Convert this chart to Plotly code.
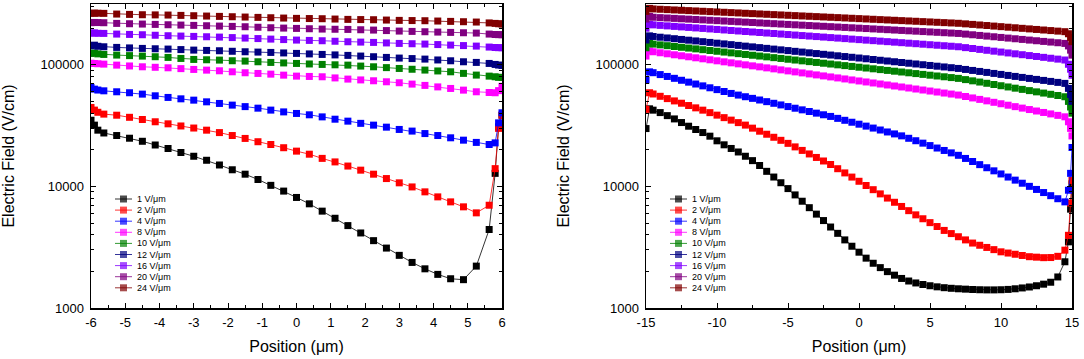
import plotly.graph_objects as go

W, H = 1084, 359

labels = ["1 V/μm", "2 V/μm", "4 V/μm", "8 V/μm", "10 V/μm", "12 V/μm", "16 V/μm", "20 V/μm", "24 V/μm"]
colors = ["#000000", "#FF0000", "#0000FF", "#FF00FF", "#008000", "#000080", "#8000FF", "#800080", "#800000"]

# ---------------- left panel (-6 .. 6 um) ----------------
left_x = [-6.0, -5.9, -5.8, -5.625, -5.25, -4.875, -4.5, -4.125, -3.75, -3.375, -3.0, -2.625, -2.25,
          -1.875, -1.5, -1.125, -0.75, -0.375, 0.0, 0.375, 0.75, 1.125, 1.5, 1.875, 2.25, 2.625, 3.0,
          3.375, 3.75, 4.125, 4.5, 4.875, 5.25, 5.625, 5.8, 5.9, 6.0]

left_1 = [35000, 31900, 29000, 27500, 26200, 24900, 23500, 21900, 20500, 19000, 17700, 16400, 15000,
          13700, 12600, 11400, 10200, 9150, 8110, 7190, 6260, 5470, 4760, 4140, 3580, 3110, 2710,
          2370, 2100, 1890, 1740, 1710, 2210, 4420, 12800, 30900, 38500]
left_2 = [44600, 42400, 40700, 39300, 38500, 37000, 35500, 34000, 32700, 31400, 30200, 29000, 27700,
          26200, 24800, 23300, 22100, 20800, 19500, 18400, 17000, 15900, 14700, 13600, 12600, 11600, 10700,
          9900, 9020, 8200, 7460, 6790, 6060, 7000, 14000, 30000, 38500]
left_4 = [65200, 63100, 62000, 61100, 60000, 58900, 57400, 55600, 53900, 52500, 51200, 49600, 48100,
          46600, 45300, 44000, 42400, 41000, 39800, 38800, 37300, 35700, 34400, 33000, 31900, 30700, 29400,
          28500, 27200, 26200, 25100, 24000, 23000, 22100, 22800, 33300, 40300]
left_8 = [103000, 102500, 102000, 101300, 99400, 97800, 96300, 95400, 94500, 93000, 91600, 90400, 89300,
          87600, 86000, 84900, 83800, 82200, 80700, 80200, 79700, 78000, 76300, 75100, 73900, 72500, 71200,
          69400, 67700, 65800, 63900, 61900, 60000, 59200, 58900, 61300, 66500]
left_10 = [124100, 125000, 123000, 121700, 120200, 119000, 117900, 116500, 115000, 112800, 110700, 110000, 109300,
           108000, 107300, 105900, 104600, 103600, 102600, 101600, 100700, 100000, 99400, 97600, 96300, 94800, 93300,
           91900, 90500, 89000, 87600, 85000, 82300, 80700, 79700, 78900, 78700]
left_12 = [143400, 145000, 142000, 140700, 139000, 137700, 136400, 135500, 134700, 133400, 132100, 131300, 130500,
           129200, 128000, 127200, 126400, 125200, 124100, 122900, 121700, 120600, 119500, 118000, 116500, 115000, 113600,
           112500, 111400, 109600, 107900, 105900, 104600, 102600, 100700, 99500, 98800]
left_16 = [182000, 183000, 181500, 181200, 178900, 177800, 176700, 175000, 173400, 172300, 171200, 170100, 169000,
           167400, 165900, 164300, 162700, 161200, 159700, 158700, 157700, 156200, 154700, 153700, 152800, 151300, 149900,
           149000, 148100, 146700, 145300, 143900, 142500, 139900, 138800, 138300, 138100]
left_20 = [222000, 223000, 222500, 221800, 219000, 217600, 216300, 214900, 213500, 212200, 210900, 209500, 208200,
           206900, 205600, 203600, 201700, 200400, 199200, 197900, 196700, 196000, 195400, 194200, 193000, 191200, 189400,
           188200, 187000, 185800, 184700, 183500, 182400, 178900, 177500, 177000, 176700]
left_24 = [265000, 266000, 265500, 264800, 261400, 259700, 258100, 257300, 256500, 254900, 253300, 251700, 250100,
           248500, 247000, 245400, 243800, 242300, 240900, 240100, 239300, 237800, 236300, 235500, 234800, 233300, 231900,
           231100, 230400, 229000, 227500, 226100, 224700, 221000, 219000, 217500, 216300]

# ---------------- right panel (-15 .. 15 um) ----------------
right_x = [-15, -14.75, -14.5, -14, -13.5, -13, -12.5, -12, -11.5, -11, -10.5, -10, -9.5, -9, -8.5, -8,
           -7.5, -7, -6.5, -6, -5.5, -5, -4.5, -4, -3.5, -3, -2.5, -2, -1.5, -1, -0.5, 0, 0.5, 1, 1.5,
           2, 2.5, 3, 3.5, 4, 4.5, 5, 5.5, 6, 6.5, 7, 7.5, 8, 8.5, 9, 9.5, 10, 10.5, 11, 11.5, 12, 12.5,
           13, 13.5, 14, 14.5, 14.75, 14.9, 15]

right_1 = [29900, 43450, 42360, 40460, 38190, 35890, 33500, 31260, 29380, 27730, 25880, 23710, 21980, 20510,
           19190, 17700, 16290, 14860, 13300, 11940, 10720, 9594, 8511, 7551, 6683, 5916, 5236, 4634, 4111,
           3631, 3221, 2877, 2570, 2333, 2148, 1991, 1862, 1750, 1667, 1607, 1560, 1524, 1493, 1469, 1452,
           1439, 1429, 1419, 1413, 1409, 1409, 1413, 1422, 1439, 1462, 1489, 1524, 1570, 1629, 1800, 2400,
           3500, 6500, 10500]
right_2 = [43000, 58900, 57540, 55080, 52720, 50470, 48310, 46240, 44260, 42360, 40420, 38550, 36770, 35080,
           33460, 31920, 30130, 28440, 26850, 25350, 23930, 22590, 21130, 19770, 18490, 17300, 16180, 15140,
           13980, 12910, 11930, 11020, 10170, 9397, 8679, 8017, 7405, 6839, 6317, 5834, 5420, 5035, 4677,
           4345, 4093, 3855, 3631, 3420, 3281, 3148, 3020, 2897, 2831, 2767, 2704, 2642, 2618, 2594, 2600,
           2660, 2990, 3960, 7300, 11200]
right_4 = [75000, 87500, 86100, 83100, 80200, 77400, 74600, 72000, 69500, 67100, 64700, 62500, 60300, 58150,
           56360, 54630, 52970, 51350, 49770, 48250, 46770, 45340, 43950, 42610, 41300, 40040, 38820, 37630,
           36270, 34960, 33700, 32480, 31310, 30180, 29090, 28030, 27020, 26040, 24870, 23750, 22680, 21660,
           20680, 19750, 18870, 18020, 16980, 16020, 15100, 14240, 13430, 12660, 11940, 11260, 10620, 10010,
           9440, 8900, 8390, 7920, 7460, 9300, 12800, 20900]
right_8 = [118000, 130000, 128000, 125580, 123210, 120890, 118610, 116370, 114170, 112010, 109900, 107830,
           105790, 103790, 101830, 99910, 98020, 96170, 94360, 92580, 90830, 89110, 87430, 85780, 84160, 82570,
           81010, 79480, 77980, 76510, 75060, 73650, 72260, 70890, 69550, 68240, 66950, 65690, 64450, 63230,
           62040, 60870, 59720, 58590, 57480, 56400, 54870, 53380, 51940, 50530, 49160, 47830, 46530, 45270,
           44040, 42850, 41690, 40560, 39460, 38390, 37350, 34000, 30000, 26000]
right_10 = [138000, 150000, 148000, 145780, 143600, 141450, 139330, 137240, 135180, 133160, 131160, 129200,
            127260, 125350, 123480, 121630, 119800, 118010, 116240, 114500, 112780, 111090, 109430, 107790,
            106170, 104580, 103010, 101470, 99950, 98450, 96980, 95520, 94090, 92680, 91290, 89920, 88580,
            87250, 85940, 84660, 83390, 82140, 80910, 79700, 78500, 77320, 75550, 73820, 72130, 70480, 68860,
            67280, 65740, 64240, 62770, 61330, 59920, 58550, 57210, 55900, 54620, 50000, 45000, 40000]
right_12 = [160000, 173000, 171000, 168610, 166250, 163930, 161640, 159380, 157150, 154950, 152790, 150650,
            148550, 146470, 144430, 142410, 140420, 138450, 136520, 134610, 132730, 130870, 129040, 127240,
            125460, 123710, 121980, 120270, 118590, 116930, 115300, 113690, 112100, 110530, 108990, 107460,
            105960, 104480, 103020, 101580, 100160, 98760, 97380, 96020, 94680, 93350, 91600, 89890, 88210,
            86560, 84940, 83350, 81790, 80260, 78760, 77290, 75840, 74430, 73030, 71670, 70330, 64000, 57000, 50000]
right_16 = [200000, 215000, 213000, 210960, 208930, 206930, 204950, 202980, 201040, 199110, 197200, 195310,
            193430, 191580, 189740, 187920, 186120, 184330, 182570, 180810, 179080, 177360, 175660, 173980,
            172310, 170660, 169020, 167400, 165790, 164200, 162630, 161070, 159520, 157990, 156480, 154980,
            153490, 152020, 150560, 149120, 147690, 146270, 144870, 143480, 142100, 140740, 138410, 136110,
            133850, 131630, 129450, 127300, 125190, 123110, 121070, 119060, 117090, 115140, 113230, 111350,
            109500, 101000, 92000, 82000]
right_20 = [238000, 250000, 246000, 244250, 242520, 240800, 239090, 237390, 235710, 234040, 232370, 230720,
            229090, 227460, 225850, 224240, 222650, 221070, 219500, 217940, 216400, 214860, 213330, 211820,
            210320, 208820, 207340, 205870, 204410, 202960, 201520, 200090, 198670, 197260, 195850, 194460,
            193080, 191710, 190350, 189000, 187660, 186330, 185010, 183690, 182390, 181100, 178830, 176590,
            174380, 172200, 170050, 167920, 165820, 163750, 161700, 159680, 157680, 155710, 153760, 151840,
            149940, 143000, 132000, 120000]
right_24 = [275000, 291000, 288000, 286190, 284390, 282590, 280810, 279040, 277290, 275540, 273810, 272080,
            270370, 268660, 266970, 265290, 263620, 261960, 260310, 258670, 257040, 255420, 253810, 252210,
            250620, 249040, 247480, 245920, 244370, 242830, 241300, 239780, 238270, 236770, 235280, 233790,
            232320, 230860, 229400, 227960, 226520, 225100, 223680, 222270, 220870, 219480, 217170, 214880,
            212590, 210350, 208130, 205940, 203770, 201620, 199500, 197400, 195320, 193260, 191220, 189210,
            187210, 180000, 168000, 155000]

left_series = [left_1, left_2, left_4, left_8, left_10, left_12, left_16, left_20, left_24]
right_series = [right_1, right_2, right_4, right_8, right_10, right_12, right_16, right_20, right_24]

left_ticks = [-6, -5, -4, -3, -2, -1, 0, 1, 2, 3, 4, 5, 6]
right_ticks = [-15, -10, -5, 0, 5, 10, 15]
y_major = [1000, 10000, 100000]
y_minor = [2000, 3000, 4000, 5000, 6000, 7000, 8000, 9000,
           20000, 30000, 40000, 50000, 60000, 70000, 80000, 90000, 200000, 300000]

FONT = "Arial, 'Liberation Sans', sans-serif"

fig = go.Figure()
for lab, col, ly, ry in zip(labels, colors, left_series, right_series):
    for xs, ys, xa, ya in ((left_x, ly, "x", "y"), (right_x, ry, "x2", "y2")):
        fig.add_trace(go.Scatter(
            x=xs, y=ys, mode="lines+markers", name=lab, xaxis=xa, yaxis=ya,
            line=dict(color=col, width=0.8),
            marker=dict(symbol="square", size=7, color=col, line=dict(width=0)),
            showlegend=False, cliponaxis=True))

# custom compact legends (pixel coordinates on an invisible overlay axis)
legend_rows = [199 + 11.1 * i for i in range(9)]
for x0 in (115, 670):
    for lab, col, yy in zip(labels, colors, legend_rows):
        fig.add_trace(go.Scatter(
            x=[x0, x0 + 8.5, x0 + 17], y=[yy, yy, yy], mode="lines+markers",
            xaxis="x3", yaxis="y3", showlegend=False, hoverinfo="skip",
            line=dict(color=col, width=0.8),
            marker=dict(symbol="square", size=[0, 7, 0], color=col, line=dict(width=0))))
        fig.add_annotation(x=x0 + 20, y=yy, xref="x3", yref="y3", text=lab, showarrow=False,
                           xanchor="left", yanchor="middle",
                           font=dict(family=FONT, size=9, color="black"))

def xaxis_common(rng, ticks, minor_dtick, dom):
    return dict(
        domain=dom, range=rng, showline=True, linecolor="black", linewidth=1.5, mirror="ticks",
        ticks="inside", ticklen=5, tickwidth=1, tickcolor="black",
        tickmode="array", tickvals=ticks, ticktext=[str(t) for t in ticks],
        minor=dict(ticks="inside", ticklen=3, tickwidth=1, tickcolor="black", dtick=minor_dtick, tick0=0),
        showgrid=False, zeroline=False, ticklabelstandoff=2,
        tickfont=dict(family=FONT, size=13, color="black"),
        title=dict(text="Position (μm)", font=dict(family=FONT, size=16, color="black"), standoff=11),
        automargin=False)

def yaxis_common(dom, anchor):
    return dict(
        domain=dom, anchor=anchor, type="log", range=[3, 5.5], showline=True, linecolor="black",
        linewidth=1.5, mirror="ticks", ticks="inside", ticklen=5, tickwidth=1, tickcolor="black",
        tickmode="array", tickvals=y_major, ticktext=[str(v) for v in y_major],
        minor=dict(ticks="inside", ticklen=3, tickwidth=1, tickcolor="black", tickvals=y_minor),
        showgrid=False, zeroline=False, ticklabelstandoff=3,
        tickfont=dict(family=FONT, size=13, color="black"),
        title=dict(text="Electric Field (V/cm)", font=dict(family=FONT, size=16, color="black"), standoff=22),
        automargin=False)

ydom = [1 - 308 / H, 1 - 4 / H]
fig.update_layout(
    width=W, height=H, margin=dict(l=0, r=0, t=0, b=0),
    paper_bgcolor="white", plot_bgcolor="rgba(0,0,0,0)",
    xaxis=dict(anchor="y", **xaxis_common([-6, 6], left_ticks, 0.5, [91 / W, 502 / W])),
    yaxis=yaxis_common(ydom, "x"),
    xaxis2=dict(anchor="y2", **xaxis_common([-15, 15], right_ticks, 2.5, [646 / W, 1072 / W])),
    yaxis2=yaxis_common(ydom, "x2"),
    xaxis3=dict(domain=[0, 1], range=[0, W], visible=False, anchor="y3", fixedrange=True),
    yaxis3=dict(domain=[0, 1], range=[H, 0], visible=False, anchor="x3", fixedrange=True),
    showlegend=False, hovermode=False,
)

fig.write_html("out.html", config={"displayModeBar": False, "staticPlot": True},
               post_script="document.body.style.margin='0px';")
